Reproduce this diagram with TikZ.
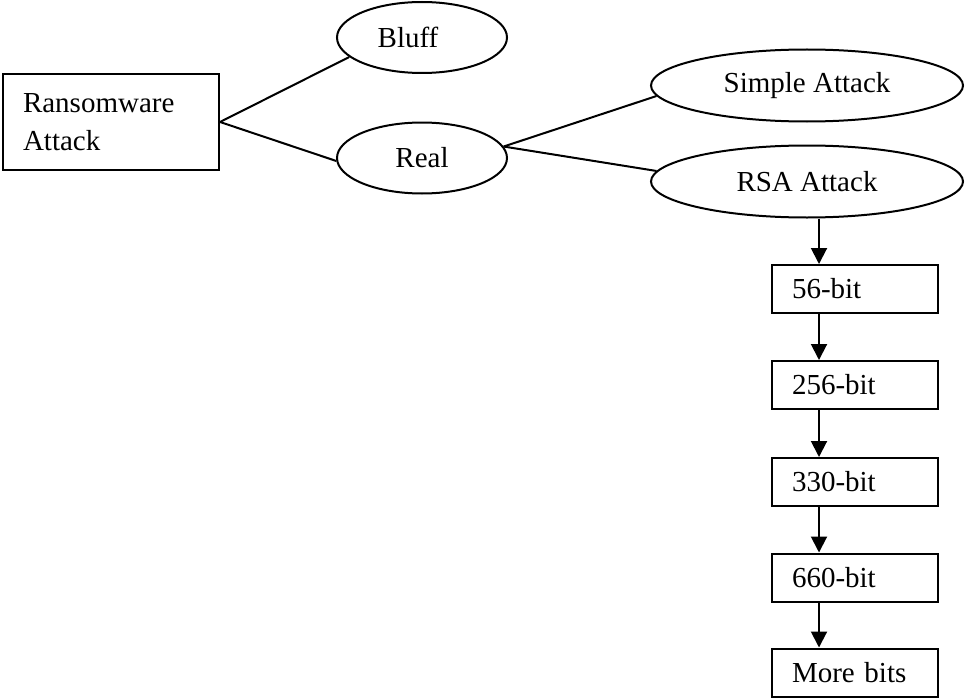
\documentclass[tikz,border=0pt]{standalone}
\usepackage{fontspec}
\setmainfont{Liberation Serif}
\usetikzlibrary{positioning,arrows.meta,shapes.geometric}
\begin{document}
\begin{tikzpicture}[x=1pt, y=-1pt, line width=2pt, font=\fontsize{29}{38}\selectfont,
  box/.style={draw, rectangle, align=left, inner xsep=20pt, inner ysep=0pt, minimum height=48pt, text width=126pt},
  oval/.style={draw, ellipse, inner sep=0pt, minimum width=170pt, minimum height=71pt},
  wide/.style={oval, minimum width=312pt, minimum height=72pt},
  arr/.style={-{Triangle[length=16pt, width=16pt]}}]
\useasboundingbox (0,0) rectangle (965,698);
\node[box, text width=176pt, minimum height=96pt] (ransom) at (111,122) {Ransomware\\Attack};
\node[oval] (bluff) at (422,37.5) {Bluff\hspace*{28pt}};
\node[oval] (real) at (422,158) {Real};
\node[wide] (simple) at (807,85.5) {Simple Attack};
\node[wide] (rsa) at (807,181.5) {RSA Attack};
\node[box] (b56) at (855,289) {56-bit};
\node[box] (b256) at (855,385) {256-bit};
\node[box] (b330) at (855,482) {330-bit};
\node[box] (b660) at (855,577.5) {660-bit};
\node[box] (more) at (855,672.5) {More bits};
\coordinate (spine) at (819,0);
\draw (ransom.east) -- (bluff.195);
\draw (ransom.east) -- (real.182);
\draw (real.8) -- (simple.184);
\draw (real.8) -- (rsa.176);
\draw[arr] (rsa.south -| spine) -- (b56.north -| spine);
\foreach \a/\b in {b56/b256, b256/b330, b330/b660, b660/more}
  \draw[arr] (\a.south -| spine) -- (\b.north -| spine);
\end{tikzpicture}
\end{document}
